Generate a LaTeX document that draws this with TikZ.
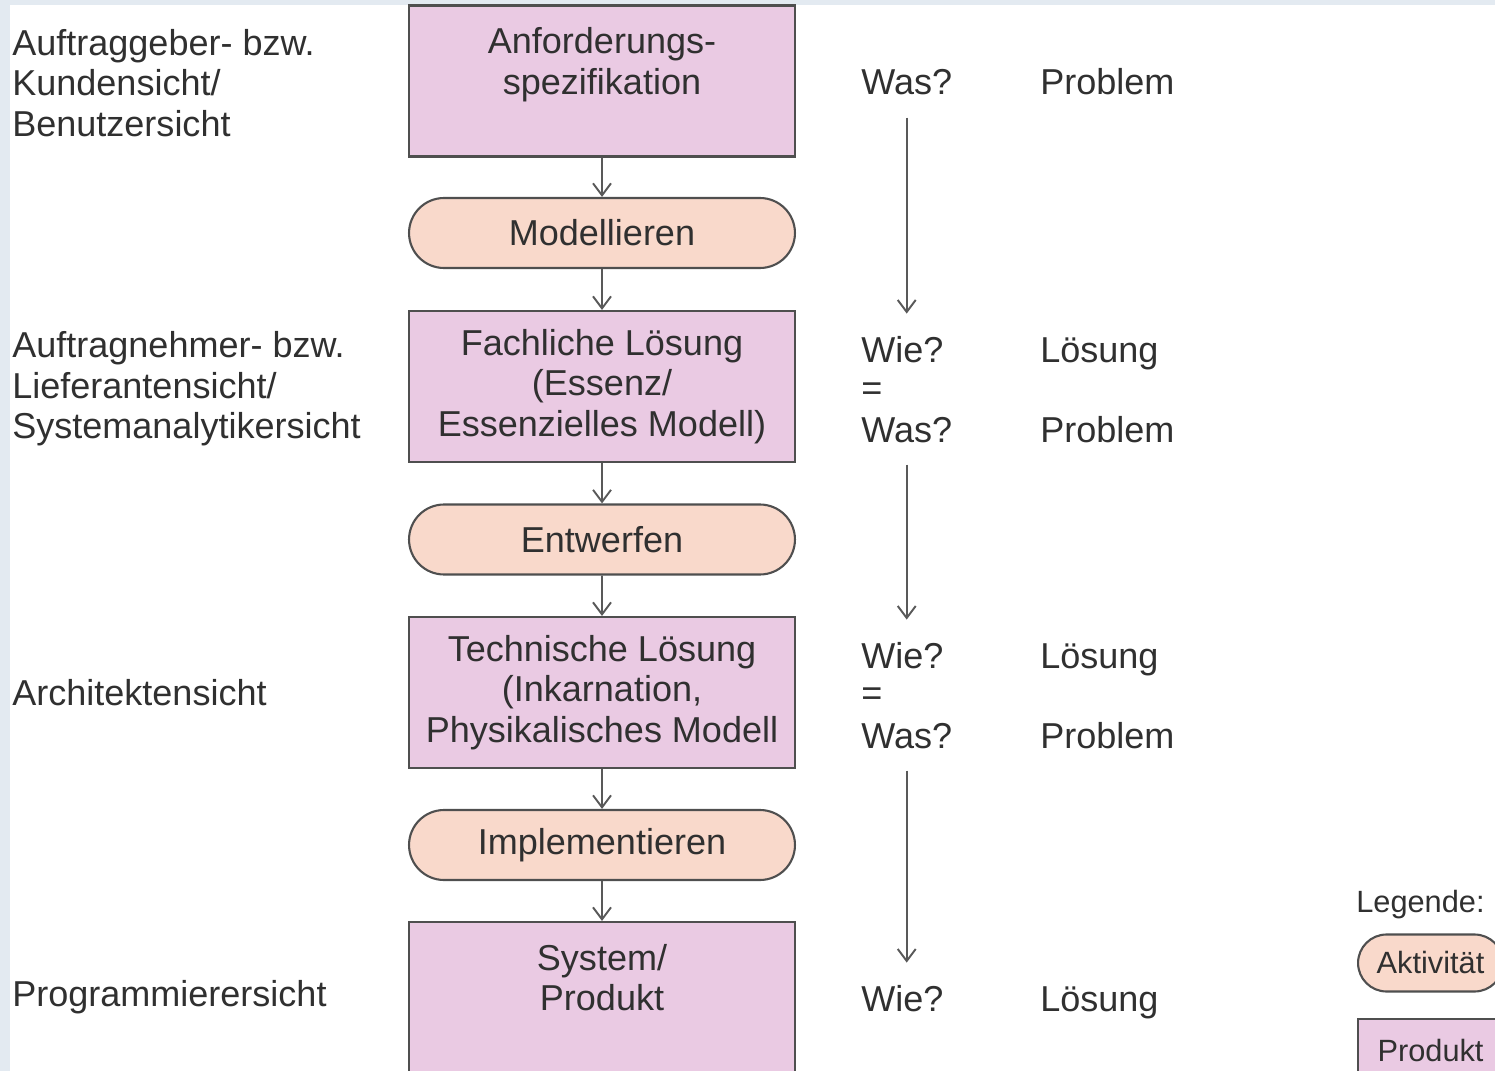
\documentclass[tikz,border=0pt]{standalone}
\usepackage{fontspec}
\setmainfont{Liberation Sans}
\usetikzlibrary{shapes.misc,arrows.meta}
\definecolor{produkt}{HTML}{EACAE3}
\definecolor{aktiv}{HTML}{F9D9CB}
\definecolor{rand}{HTML}{4F4F4F}
\definecolor{schrift}{HTML}{303030}
\definecolor{streifen}{HTML}{E3EAF1}

\begin{document}
\begin{tikzpicture}[x=0.02cm,y=-0.02cm,
  every node/.style={font=\fontsize{20.5}{23}\selectfont,text=schrift},
  prod/.style={draw=rand,line width=1.2pt,fill=produkt,minimum width=7.72cm,minimum height=3.02cm,align=center,inner sep=0pt},
  akt/.style={rounded rectangle,draw=rand,line width=1.2pt,fill=aktiv,minimum width=7.72cm,minimum height=1.4cm,inner sep=0pt},
  sicht/.style={anchor=west,align=left,inner sep=0pt},
  frage/.style={anchor=base west,inner sep=0pt},
  klein/.style={font=\fontsize{17.5}{20}\selectfont},
  pfeil/.style={draw=black!65,line width=1.1pt,-{Straight Barb[length=2.4mm,width=3.6mm]}}]
  \useasboundingbox (0,0) rectangle (1495,1071);
  \clip (0,0) rectangle (1495,1071);
  \fill[streifen] (0,0) rectangle (1495,5);
  \fill[streifen] (0,0) rectangle (10,1071);

  % Sichten
  \node[sicht] (s1) at (12,83) {Auftraggeber- bzw.\\Kundensicht/\\Benutzersicht};
  \node[sicht] (s2) at (12,389) {Auftragnehmer- bzw.\\Lieferantensicht/\\Systemanalytikersicht};
  \node[sicht] (s3) at (12,693) {Architektensicht};
  \node[sicht] (s4) at (12,997) {Programmierersicht};

  % Produkte und Aktivitaeten
  \node[prod] (p1) at (602,81) {Anforderungs-\\spezifikation\\\mbox{}};
  \node[akt] (a1) at (602,233) {Modellieren};
  \node[prod] (p2) at (602,386.5) {Fachliche Lösung\\(Essenz/\\Essenzielles Modell)};
  \node[akt] (a2) at (602,539.5) {Entwerfen};
  \node[prod] (p3) at (602,692.5) {Technische Lösung\\(Inkarnation,\\Physikalisches Modell};
  \node[akt] (a3) at (602,845) {Implementieren};
  \node[prod] (p4) at (602,997.5) {System/\\Produkt\\\mbox{}};
  \draw[pfeil] (p1) -- (a1);
  \draw[pfeil] (a1) -- (p2);
  \draw[pfeil] (p2) -- (a2);
  \draw[pfeil] (a2) -- (p3);
  \draw[pfeil] (p3) -- (a3);
  \draw[pfeil] (a3) -- (p4);

  % Was/Wie (Grundlinien)
  \node[frage] (was1) at (861,95) {Was?};
  \node[frage] (prob1) at (1040,95) {Problem};
  \node[frage] (wie2) at (861,362) {Wie?};
  \node[frage] (gl2) at (861,400) {=};
  \node[frage] (was2) at (861,442) {Was?};
  \node[frage] (loes2) at (1040,362) {Lösung};
  \node[frage] (prob2) at (1040,442) {Problem};
  \node[frage] (wie3) at (861,668) {Wie?};
  \node[frage] (gl3) at (861,705) {=};
  \node[frage] (was3) at (861,748) {Was?};
  \node[frage] (loes3) at (1040,668) {Lösung};
  \node[frage] (prob3) at (1040,748) {Problem};
  \node[frage] (wie4) at (861,1011) {Wie?};
  \node[frage] (loes4) at (1040,1011) {Lösung};
  \draw[pfeil,shorten <=12.5pt,shorten >=12.5pt] (was1.south) -- (was1.south |- wie2.north);
  \draw[pfeil,shorten <=12.5pt,shorten >=12.5pt] (was2.south) -- (was2.south |- wie3.north);
  \draw[pfeil,shorten <=12.5pt,shorten >=12.5pt] (was3.south) -- (was3.south |- wie4.north);

  % Legende
  \node[frage,klein] (leg) at (1356,912) {Legende:};
  \node[akt,klein,anchor=west,minimum width=2.9cm,minimum height=1.14cm] (legakt) at (1357,963) {Aktivität};
  \node[prod,klein,anchor=north west,minimum width=2.9cm,minimum height=1.24cm] (legprod) at (1357,1018) {Produkt};
\end{tikzpicture}
\end{document}
